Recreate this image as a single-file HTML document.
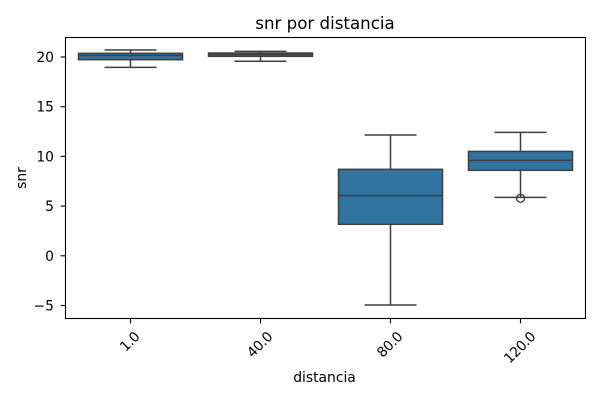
<!DOCTYPE html>
<html lang="es">
<head>
<meta charset="utf-8">
<title>snr por distancia</title>
<style>
html,body{margin:0;padding:0;background:#fff;}
svg{display:block;font-family:"DejaVu Sans",sans-serif;}
</style>
</head>
<body>
<svg id="chart" xmlns="http://www.w3.org/2000/svg" width="600" height="400" viewBox="0 0 600 400">
  <rect x="0" y="0" width="600" height="400" fill="#ffffff"/>
  <g id="marks"></g>
  <rect x="65.5" y="37.5" width="520" height="281" fill="none" stroke="#000" stroke-width="1.1"/>
  <g id="axes"></g>
  <text x="325" y="29" font-size="16.67" text-anchor="middle" fill="#000">snr por distancia</text>
  <text x="324.5" y="382" font-size="13.89" text-anchor="middle" fill="#000">distancia</text>
  <text transform="translate(26 178) rotate(-90)" font-size="13.89" text-anchor="middle" fill="#000">snr</text>
</svg>
<script>
const categories = ["1.0", "40.0", "80.0", "120.0"];
const whiskerLow = [18.96, 19.57, -4.95, 5.88];
const quartile1 = [19.73, 20.07, 3.17, 8.6];
const medians = [20.15, 20.25, 6.05, 9.6];
const quartile3 = [20.37, 20.4, 8.7, 10.5];
const whiskerHigh = [20.7, 20.57, 12.15, 12.42];
const outliers = [[], [], [], [5.78]];
const yTicks = [-5, 0, 5, 10, 15, 20];

const NS = "http://www.w3.org/2000/svg";
const marks = document.getElementById("marks");
const axes = document.getElementById("axes");
const plotLeft = 65.5, plotRight = 585.5, plotBottom = 318.5;
const LINE = "#3f3f3f", FILL = "#3274a1";
const bandWidth = (plotRight - plotLeft) / categories.length;

function xScale(i) { return plotLeft + bandWidth * (i + 0.5); }
function yScale(v) { return 255.8 - v * 9.94; }

function make(parent, tag, attrs) {
  const el = document.createElementNS(NS, tag);
  for (const k in attrs) el.setAttribute(k, attrs[k]);
  parent.appendChild(el);
  return el;
}
function strokeLine(parent, x1, y1, x2, y2, color, width) {
  return make(parent, "line", { x1: x1, y1: y1, x2: x2, y2: y2, stroke: color, "stroke-width": width });
}

categories.forEach(function (cat, i) {
  const g = make(marks, "g", {});
  
  
  const cx = xScale(i);
  const boxW = bandWidth * 0.8;
  const capW = boxW * 0.5;

  const lowWhisker = strokeLine(g, cx, yScale(quartile1[i]), cx, yScale(whiskerLow[i]), LINE, 1.5);
  
  
  const highWhisker = strokeLine(g, cx, yScale(quartile3[i]), cx, yScale(whiskerHigh[i]), LINE, 1.5);
  
  
  const lowCap = strokeLine(g, cx - capW / 2, yScale(whiskerLow[i]), cx + capW / 2, yScale(whiskerLow[i]), LINE, 1.5);
  
  
  const highCap = strokeLine(g, cx - capW / 2, yScale(whiskerHigh[i]), cx + capW / 2, yScale(whiskerHigh[i]), LINE, 1.5);
  
  

  const box = make(g, "rect", {
    x: cx - boxW / 2,
    y: yScale(quartile3[i]),
    width: boxW,
    height: yScale(quartile1[i]) - yScale(quartile3[i]),
    fill: FILL,
    stroke: LINE,
    "stroke-width": 1.5
  });
  
  

  const median = strokeLine(g, cx - boxW / 2, yScale(medians[i]), cx + boxW / 2, yScale(medians[i]), LINE, 1.5);
  
  

  outliers[i].forEach(function (v) {
    const dot = make(g, "circle", { cx: cx, cy: yScale(v), r: 4, fill: "none", stroke: LINE, "stroke-width": 1.4 });
    
    
  });

  const tick = strokeLine(axes, cx, plotBottom, cx, plotBottom + 4.9, "#000", 1.1);
  
  

  const labelX = cx - 1;
  const label = make(axes, "text", { x: labelX, y: 345, "font-size": 13.89, "letter-spacing": "-0.4", "text-anchor": "middle", fill: "#000" });
  
  
  label.textContent = cat;
  label.setAttribute("transform", "rotate(-45 " + labelX + " 340)");
  const top = label.getBoundingClientRect().top;
  const shift = 329 - top;
  label.setAttribute("y", 345 + shift);
  label.setAttribute("transform", "rotate(-45 " + labelX + " " + (340 + shift) + ")");
});

yTicks.forEach(function (v) {
  const y = yScale(v);
  const tick = strokeLine(axes, plotLeft, y, plotLeft - 4.9, y, "#000", 1.1);
  
  
  const label = make(axes, "text", { x: 54, y: y + 5, "font-size": 13.89, "text-anchor": "end", fill: "#000" });
  
  
  label.textContent = v < 0 ? "\u2212" + Math.abs(v) : String(v);
});
</script>
</body>
</html>
